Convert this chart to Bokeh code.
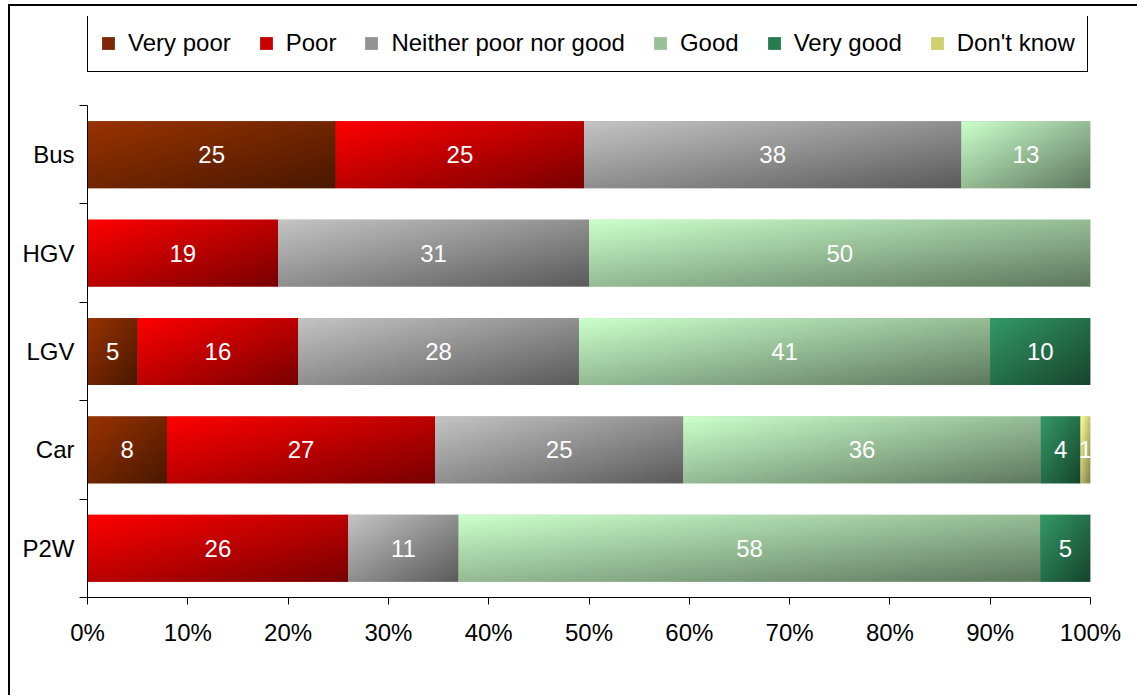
import numpy as np
from bokeh.plotting import figure
from bokeh.models import (ColumnDataSource, Range1d, FixedTicker, Legend, LegendItem,
                          NumeralTickFormatter)
from bokeh.core.properties import value
from bokeh.embed import file_html
from bokeh.resources import INLINE

categories = ["Bus", "HGV", "LGV", "Car", "P2W"]
series = ["Very poor", "Poor", "Neither poor nor good", "Good", "Very good", "Don't know"]
very_poor = [25, 0, 5, 8, 0]
poor = [25, 19, 16, 27, 26]
neither = [38, 31, 28, 25, 11]
good = [13, 50, 41, 36, 58]
very_good = [0, 0, 10, 4, 5]
dont_know = [0, 0, 0, 1, 0]
x_ticks = [0, 0.1, 0.2, 0.3, 0.4, 0.5, 0.6, 0.7, 0.8, 0.9, 1.0]

# gradient colours: light (top-left) -> dark (bottom-right)
light = ["#993300", "#ff0000", "#c4c4c4", "#ccffcc", "#339966", "#ffff99"]
dark = ["#4a1800", "#7a0000", "#5c5c5c", "#5f7a5f", "#17452e", "#7a7a45"]
swatch = ["#7a2805", "#c80000", "#939393", "#99c099", "#287a50", "#d0d070"]
FONT = "Liberation Sans"

values = [very_poor, poor, neither, good, very_good, dont_know]
n = len(categories)
ypos = [n - 0.5 - i for i in range(n)]
totals = [sum(v[i] for v in values) for i in range(n)]
BAR_H = 0.68


def hex2rgb(h):
    return np.array([int(h[i:i + 2], 16) for i in (1, 3, 5)], dtype=float)


def gradient(c1, c2, rows=24, cols=96):
    u = np.linspace(0, 1, cols)[None, :]
    v = np.linspace(1, 0, rows)[:, None]  # row 0 is bottom
    t = (u + v) / 2.0
    a, b = hex2rgb(c1), hex2rgb(c2)
    rgb = a[None, None, :] * (1 - t[..., None]) + b[None, None, :] * t[..., None]
    img = np.empty((rows, cols), dtype=np.uint32)
    view = img.view(dtype=np.uint8).reshape((rows, cols, 4))
    view[..., :3] = np.clip(rgb, 0, 255).astype(np.uint8)
    view[..., 3] = 255
    return img


p = figure(width=1129, height=691, output_backend="svg", toolbar_location=None,
           x_range=Range1d(0, 1), y_range=Range1d(0, n * 581 / 492))
p.styles = {"margin-left": "8px", "margin-top": "4px",
            "border-left": "2px solid black", "border-top": "2px solid black"}
p.min_border_left = 77
p.min_border_right = 49
p.min_border_top = 10
p.min_border_bottom = 100
p.outline_line_color = None
p.xgrid.visible = False
p.ygrid.visible = False

renderers = []
lab_x, lab_y, lab_t = [], [], []
for k, (name, vals) in enumerate(zip(series, values)):
    left, right, ys = [], [], []
    imgs, ix, iy, idw, idh = [], [], [], [], []
    for i in range(n):
        start = sum(values[j][i] for j in range(k)) / totals[i]
        end = start + vals[i] / totals[i]
        left.append(start)
        right.append(end)
        ys.append(ypos[i])
        if vals[i] > 0:
            lab_x.append((start + end) / 2)
            lab_y.append(ypos[i])
            lab_t.append(str(vals[i]))
            imgs.append(gradient(light[k], dark[k]))
            ix.append(start)
            iy.append(ypos[i] - BAR_H / 2)
            idw.append(end - start)
            idh.append(BAR_H)
    src = ColumnDataSource(dict(left=left, right=right, y=ys))
    r = p.hbar(y="y", left="left", right="right", height=BAR_H, source=src,
               fill_color=swatch[k], line_color=None)
    renderers.append(r)
    if imgs:
        isrc = ColumnDataSource(dict(image=imgs, x=ix, y=iy, dw=idw, dh=idh))
        p.image_rgba(image="image", x="x", y="y", dw="dw", dh="dh", source=isrc)

tsrc = ColumnDataSource(dict(x=lab_x, y=lab_y, t=lab_t))
p.text(x="x", y="y", text="t", source=tsrc, text_color="white",
       text_align="center", text_baseline="middle", text_font=value(FONT),
       text_font_size="24px")

legend = Legend(items=[LegendItem(label=s, renderers=[r]) for s, r in zip(series, renderers)],
                orientation="horizontal", location=(0, 525))
legend.label_text_font = FONT
legend.label_text_font_size = "24px"
legend.label_text_color = "black"
legend.glyph_width = 16
legend.glyph_height = 16
legend.label_standoff = 12
legend.spacing = 27
legend.padding = 12
legend.margin = 0
legend.border_line_color = "black"
legend.border_line_alpha = 1
legend.border_line_width = 1
legend.background_fill_alpha = 1
legend.label_height = 32
p.add_layout(legend, "center")

xa = p.xaxis[0]
xa.ticker = FixedTicker(ticks=x_ticks)
xa.formatter = NumeralTickFormatter(format="0%")
xa.major_label_text_font = FONT
xa.major_label_text_font_size = "24px"
xa.major_label_text_color = "black"
xa.major_tick_in = 0
xa.major_tick_out = 7
xa.minor_tick_out = 0
xa.minor_tick_in = 0
xa.major_label_standoff = 14
xa.axis_line_color = "black"
xa.major_tick_line_color = "black"

ya = p.yaxis[0]
ya.bounds = (0, n)
ya.ticker = FixedTicker(ticks=ypos, minor_ticks=list(range(n + 1)))
ya.major_label_overrides = {y: c for y, c in zip(ypos, categories)}
ya.major_label_text_font = FONT
ya.major_label_text_font_size = "24px"
ya.major_label_text_color = "black"
ya.major_tick_in = 0
ya.major_tick_out = 0
ya.minor_tick_in = 0
ya.minor_tick_out = 8
ya.minor_tick_line_color = "black"
ya.major_label_standoff = 5
ya.axis_line_color = "black"

open("out.html", "w").write(file_html(p, INLINE))
